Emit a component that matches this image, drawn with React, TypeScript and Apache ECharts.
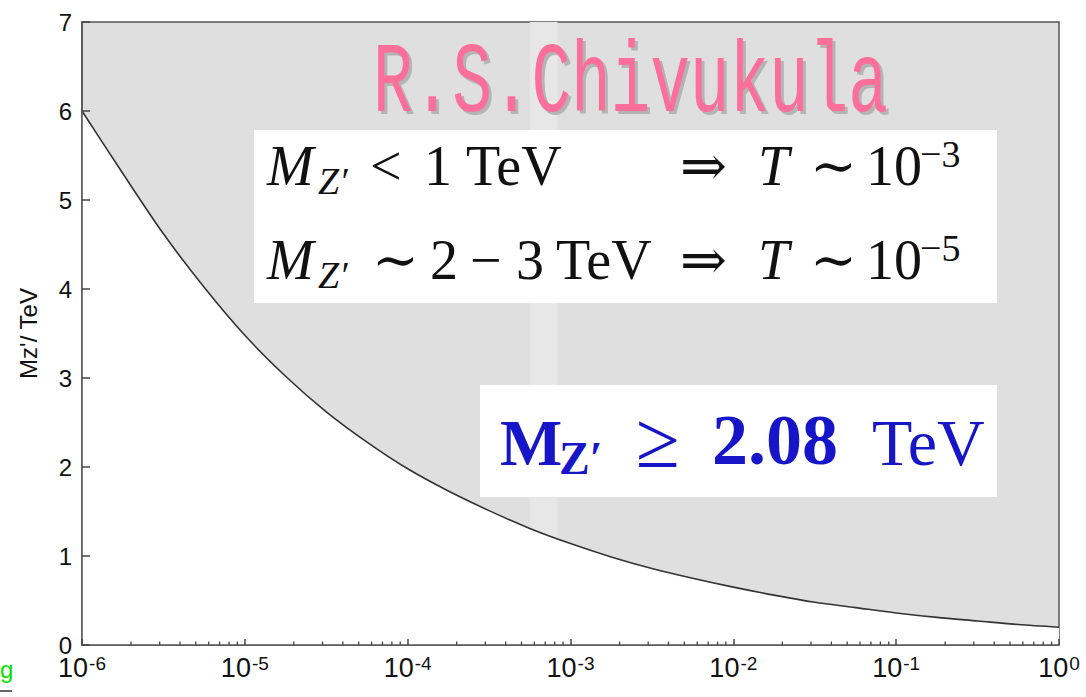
import React, { useEffect, useRef } from "react";
import * as echarts from "echarts";

// log10(T) positions where the curve was read, and Mz' (TeV) values
const tExponent = [-6, -5.75, -5.5, -5.25, -5, -4.75, -4.5, -4.25, -4, -3.75, -3.5, -3.25, -3, -2.75, -2.5, -2.25, -2, -1.75, -1.5, -1.25, -1, -0.75, -0.5, -0.25, 0];
const mzValues = [6.0, 5.3, 4.62, 4.02, 3.48, 3.02, 2.62, 2.28, 1.98, 1.73, 1.51, 1.31, 1.14, 0.99, 0.86, 0.75, 0.65, 0.56, 0.48, 0.42, 0.36, 0.31, 0.27, 0.23, 0.2];
const xTickExponents = [-6, -5, -4, -3, -2, -1, 0];
const yTicks = [0, 1, 2, 3, 4, 5, 6, 7];
const minorMultipliers = [2, 3, 4, 5, 6, 7, 8, 9];
const lightBand = [-3.25, -3.08];

const SERIF = "'Liberation Serif', 'DejaVu Serif', serif";
const SANS = "Liberation Sans";

function txt(x: number, baseline: number, text: string, fs: number, opt: any = {}) {
  return {
    type: "text",
    x,
    y: baseline - 0.3 * fs,
    z: 20,
    style: {
      text,
      fill: opt.fill || "#111",
      font: `${opt.italic ? "italic " : ""}${opt.bold ? "bold " : ""}${fs}px ${SERIF}`,
      textAlign: "left",
      textVerticalAlign: "middle",
    },
  };
}

export default function App() {
  const ref = useRef<HTMLDivElement>(null);
  useEffect(() => {
    const chart = echarts.init(ref.current!, undefined, { renderer: "svg" });
    const minorData: number[][] = [];
    for (let d = -6; d < 0; d++) {
      for (const k of minorMultipliers) minorData.push([d + Math.log10(k), 0]);
    }
    const curve = tExponent.map((x, i) => [x, mzValues[i]]);
    const blue = "#1616c8";
    const r1 = 183;
    const r2 = 277;
    const b2 = 462;
    const option: any = {
      animation: false,
      grid: {
        left: 82,
        right: 27,
        top: 22,
        bottom: 52,
        containLabel: false,
        outerBoundsMode: "none",
        show: true,
        backgroundColor: "#dfdfdf",
        borderColor: "#555",
        borderWidth: 1.5,
      },
      xAxis: {
        type: "value",
        min: -6,
        max: 0,
        interval: 1,
        z: 5,
        name: "T",
        nameLocation: "middle",
        nameGap: 40,
        nameTextStyle: { fontFamily: SANS, fontSize: 24, color: "#111", verticalAlign: "top" },
        axisLine: { show: true, onZero: false, lineStyle: { color: "#555", width: 1.5 } },
        axisTick: { show: true, inside: true, length: 6, lineStyle: { color: "#444", width: 1.5 } },
        splitLine: { show: false },
        axisLabel: {
          margin: 9,
          showMinLabel: true,
          showMaxLabel: true,
          formatter: (v: number) => (xTickExponents.includes(Math.round(v)) ? `{b|10}{s|${Math.round(v)}}` : ""),
          rich: {
            b: { fontFamily: SANS, fontSize: 27, color: "#111", verticalAlign: "bottom", lineHeight: 27 },
            s: { fontFamily: SANS, fontSize: 19, color: "#111", verticalAlign: "top", lineHeight: 19, padding: [0, 0, 22, 1] },
          },
        },
      },
      yAxis: {
        type: "value",
        min: 0,
        max: 7,
        interval: 1,
        z: 5,
        name: "Mz'/ TeV",
        nameLocation: "middle",
        nameGap: 42,
        nameTextStyle: { fontFamily: SANS, fontSize: 24, color: "#111" },
        axisLine: { show: true, onZero: false, lineStyle: { color: "#555", width: 1.5 } },
        axisTick: { show: true, inside: true, length: 8, lineStyle: { color: "#444", width: 1.5 } },
        splitLine: { show: false },
        axisLabel: {
          margin: 10,
          fontFamily: SANS,
          fontSize: 24,
          color: "#111",
          formatter: (v: number) => (yTicks.includes(v) ? String(v) : ""),
        },
      },
      series: [
        {
          type: "line",
          data: [],
          z: 1,
          silent: true,
          markArea: {
            silent: true,
            itemStyle: { color: "#e7e7e7" },
            data: [[{ xAxis: lightBand[0] }, { xAxis: lightBand[1] }]],
          },
        },
        {
          type: "line",
          data: curve,
          smooth: 0.3,
          showSymbol: false,
          z: 2,
          lineStyle: { color: "#333", width: 1.6 },
          areaStyle: { color: "#ffffff", opacity: 1 },
        },
        {
          type: "custom",
          data: minorData,
          z: 6,
          silent: true,
          renderItem: (params: any, api: any) => {
            const p = api.coord([api.value(0), api.value(1)]);
            return {
              type: "line",
              shape: { x1: p[0], y1: p[1], x2: p[0], y2: p[1] - 3.5 },
              style: { stroke: "#444", lineWidth: 1.3 },
            };
          },
        },
      ],
      graphic: [
        // title with shadow
        {
          type: "text",
          x: 376,
          y: 87,
          scaleX: 0.66,
          z: 20,
          style: { text: "R.S.Chivukula", fill: "#b4b4b4", font: "100px 'Liberation Mono', monospace", textVerticalAlign: "middle" },
        },
        {
          type: "text",
          x: 373,
          y: 84,
          scaleX: 0.66,
          z: 21,
          style: { text: "R.S.Chivukula", fill: "#fb6f9a", font: "100px 'Liberation Mono', monospace", textVerticalAlign: "middle" },
        },
        { type: "rect", z: 15, shape: { x: 254, y: 130, width: 743, height: 173 }, style: { fill: "#ffffff" } },
        { type: "rect", z: 15, shape: { x: 480, y: 385, width: 517, height: 112 }, style: { fill: "#ffffff" } },
        // row 1
        txt(267, r1, "M", 56, { italic: true }),
        txt(318, r1 + 9, "Z′", 38, { italic: true }),
        txt(370, r1, "<", 56),
        txt(424, r1, "1", 56),
        txt(466, r1, "TeV", 56),
        txt(680, r1, "⇒", 56),
        txt(758, r1, "T", 56, { italic: true }),
        txt(810, r1, "∼", 56),
        txt(866, r1, "10", 56),
        txt(920, r1 - 18, "−3", 38),
        // row 2
        txt(267, r2, "M", 56, { italic: true }),
        txt(318, r2 + 9, "Z′", 38, { italic: true }),
        txt(372, r2, "∼", 56),
        txt(430, r2, "2", 56),
        txt(470, r2, "−", 56),
        txt(516, r2, "3", 56),
        txt(556, r2, "TeV", 56),
        txt(680, r2, "⇒", 56),
        txt(758, r2, "T", 56, { italic: true }),
        txt(810, r2, "∼", 56),
        txt(866, r2, "10", 56),
        txt(920, r2 - 18, "−5", 38),
        // box 2
        txt(500, b2, "M", 66, { bold: true, fill: blue }),
        txt(559, b2 + 10, "Z′", 46, { bold: true, fill: blue }),
        txt(636, b2 + 2, "≥", 80, { fill: blue }),
        txt(712, b2, "2.08", 72, { bold: true, fill: blue }),
        txt(872, b2, "TeV", 66, { fill: blue }),
        // stray green text at bottom-left
        {
          type: "text",
          x: 0,
          y: 669,
          z: 20,
          style: { text: "g", fill: "#00e600", font: "24px 'Liberation Sans', Arial, sans-serif", textVerticalAlign: "middle" },
        },
        { type: "line", z: 20, shape: { x1: 0, y1: 691, x2: 12, y2: 691 }, style: { stroke: "#666", lineWidth: 2 } },
      ],
    };
    chart.setOption(option);
    return () => chart.dispose();
  }, []);
  return <div ref={ref} style={{ position: "fixed", left: 0, top: 0, width: 1086, height: 697, background: "#fff" }} />;
}
